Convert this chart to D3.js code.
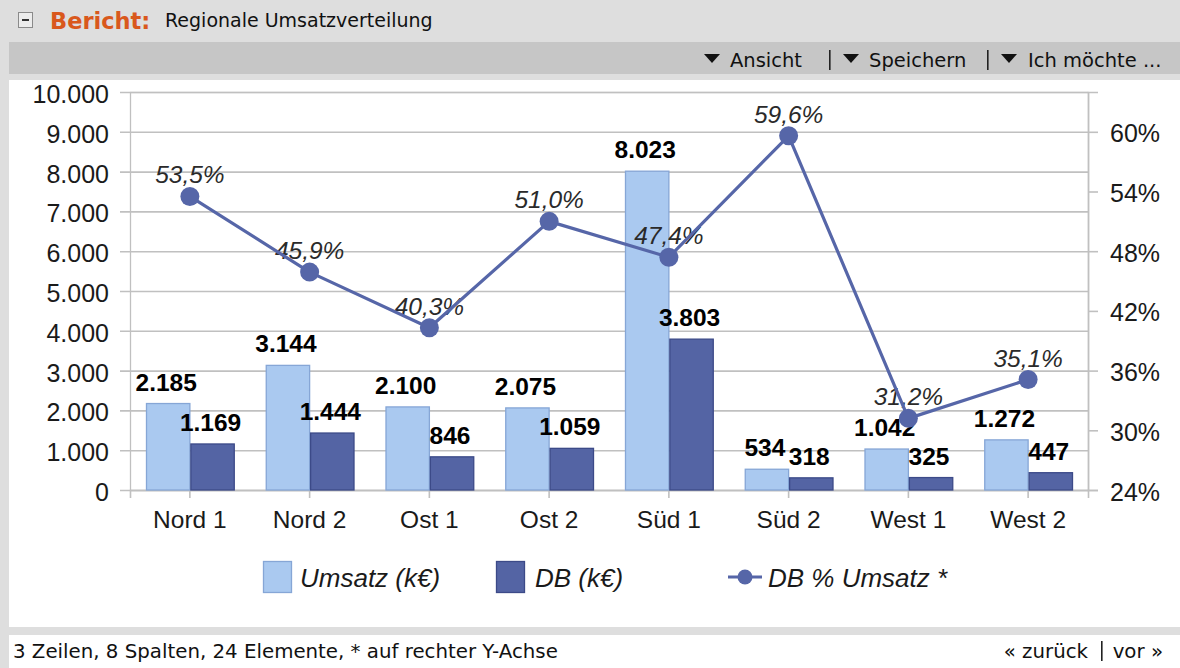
<!DOCTYPE html>
<html>
<head>
<meta charset="utf-8">
<script src="https://cdn.jsdelivr.net/npm/d3@7"></script>
<style>
  html, body { margin: 0; padding: 0; background: #dedede; }
  svg { display: block; }
  .ui { font-family: "DejaVu Sans", Verdana, sans-serif; }
  .ch { font-family: "Liberation Sans", Arial, sans-serif; }
</style>
</head>
<body>
<svg id="chart" width="1180" height="668"></svg>
<script>
// ---------- data ----------
const categories = ["Nord 1", "Nord 2", "Ost 1", "Ost 2", "Süd 1", "Süd 2", "West 1", "West 2"];
const umsatz = [2185, 3144, 2100, 2075, 8023, 534, 1042, 1272];
const db = [1169, 1444, 846, 1059, 3803, 318, 325, 447];
const dbPct = [53.5, 45.9, 40.3, 51.0, 47.4, 59.6, 31.2, 35.1];
const leftTicks = [0, 1000, 2000, 3000, 4000, 5000, 6000, 7000, 8000, 9000, 10000];
const rightTicks = [24, 30, 36, 42, 48, 54, 60];
const seriesNames = ["Umsatz (k€)", "DB (k€)", "DB % Umsatz *"];

const de = d3.formatLocale({ decimal: ",", thousands: ".", grouping: [3], currency: ["", " €"] });
const fmtNum = de.format(",d");
const fmtPct = de.format(".1f");

const svg = d3.select("#chart");

// ---------- page chrome ----------
svg.append("rect").attr("x", 0).attr("y", 0).attr("width", 1180).attr("height", 668).attr("fill", "#dedede");
// header
const hdr = svg.append("g").attr("class", "ui");
hdr.append("rect").attr("x", 18.5).attr("y", 12.5).attr("width", 14).attr("height", 15)
  .attr("fill", "#ececec").attr("stroke", "#8a8a8a");
hdr.append("line").attr("x1", 22).attr("x2", 29).attr("y1", 20).attr("y2", 20).attr("stroke", "#333").attr("stroke-width", 2);
hdr.append("text").attr("x", 50).attr("y", 28.5).attr("font-size", 22.5).attr("font-weight", "bold")
  .attr("fill", "#d9581c").text("Bericht:");
hdr.append("text").attr("x", 165).attr("y", 27).attr("font-size", 19).attr("fill", "#111")
  .text("Regionale Umsatzverteilung");
// toolbar
svg.append("rect").attr("x", 9).attr("y", 42).attr("width", 1171).attr("height", 32).attr("fill", "#c6c6c6");
const tb = svg.append("g").attr("class", "ui").attr("font-size", 19.5).attr("fill", "#111");
function tri(x) {
  tb.append("path").attr("d", `M${x},54 L${x + 16},54 L${x + 8},63 Z`).attr("fill", "#111");
}
tri(704); tb.append("text").attr("x", 730).attr("y", 67).text("Ansicht");
tb.append("rect").attr("x", 829).attr("y", 50).attr("width", 1.6).attr("height", 20).attr("fill", "#222");
tri(843); tb.append("text").attr("x", 869).attr("y", 67).text("Speichern");
tb.append("rect").attr("x", 987).attr("y", 50).attr("width", 1.6).attr("height", 20).attr("fill", "#222");
tri(1001); tb.append("text").attr("x", 1028).attr("y", 67).text("Ich möchte ...");

// main panel
svg.append("rect").attr("x", 9).attr("y", 80).attr("width", 1171).attr("height", 547).attr("fill", "#ffffff");
// footer
svg.append("rect").attr("x", 9).attr("y", 635).attr("width", 1171).attr("height", 33).attr("fill", "#ffffff");
const ft = svg.append("g").attr("class", "ui").attr("font-size", 19.8).attr("fill", "#111");
ft.append("text").attr("x", 13).attr("y", 658).text("3 Zeilen, 8 Spalten, 24 Elemente, * auf rechter Y-Achse");
ft.append("text").attr("x", 1163).attr("y", 658).attr("text-anchor", "end").text("vor »");
ft.append("rect").attr("x", 1101).attr("y", 641).attr("width", 1.6).attr("height", 20).attr("fill", "#222");
ft.append("text").attr("x", 1088).attr("y", 658).attr("text-anchor", "end").text("« zurück");

// ---------- chart ----------
const L = 130, R = 1088, T = 92, B = 490;
const x = d3.scaleBand().domain(categories).range([L, R]).paddingInner(0).paddingOuter(0);
const x1 = d3.scaleBand().domain([0, 1]).range([16, x.bandwidth() - 15]).padding(0);
const y = d3.scaleLinear().domain([0, 10000]).range([B, T]);
const y2 = d3.scaleLinear().domain([24, 64]).range([B, T]);

const g = svg.append("g").attr("class", "ch");
const gridColor = "#c0c0c0";

// plot frame
g.append("rect").attr("x", L + 0.5).attr("y", T + 0.5).attr("width", R - L).attr("height", B - T)
  .attr("fill", "none").attr("stroke", gridColor).attr("stroke-width", 1.3);

// left axis with gridlines
const yAxis = d3.axisLeft(y).tickValues(leftTicks).tickFormat(fmtNum).tickSize(-(R - L + 10)).tickPadding(0);
const ga = g.append("g").attr("transform", `translate(${L - 10},0)`).call(yAxis);
ga.select(".domain").remove();
ga.selectAll(".tick line").attr("x1", 0).attr("x2", R - L + 10).attr("stroke", gridColor).attr("stroke-width", 1.6);
ga.selectAll(".tick text").attr("x", -11).attr("dy", "0.42em").attr("font-size", 25)
  .attr("font-family", "Liberation Sans, Arial, sans-serif").attr("fill", "#1a1a1a");

// right axis
const y2Axis = d3.axisRight(y2).tickValues(rightTicks).tickFormat(d => d + "%").tickSize(10).tickPadding(0);
const gr = g.append("g").attr("transform", `translate(${R},0)`).call(y2Axis);
gr.select(".domain").attr("stroke", gridColor).attr("stroke-width", 1.6);
gr.selectAll(".tick line").attr("stroke", gridColor).attr("stroke-width", 1.6);
gr.selectAll(".tick text").attr("x", 22).attr("dy", "0.4em").attr("font-size", 25)
  .attr("font-family", "Liberation Sans, Arial, sans-serif").attr("fill", "#1a1a1a");

// x axis
const xAxis = d3.axisBottom(x).tickSize(8).tickPadding(0);
const gx = g.append("g").attr("transform", `translate(0,${B})`).call(xAxis);
gx.select(".domain").attr("stroke", gridColor).attr("stroke-width", 1.6);
gx.selectAll(".tick line").attr("stroke", gridColor).attr("stroke-width", 1.6);
gx.selectAll(".tick text").attr("y", 38).attr("dy", 0).attr("font-size", 24.5)
  .attr("font-family", "Liberation Sans, Arial, sans-serif").attr("fill", "#1a1a1a");

// bars
const barColors = [{ fill: "#aac9f0", stroke: "#86a6d6" }, { fill: "#5464a4", stroke: "#3c4a88" }];
const seriesVals = [umsatz, db];
seriesVals.forEach((vals, si) => {
  g.append("g").selectAll("rect").data(vals).join("rect")
    .attr("x", (d, i) => x(categories[i]) + x1(si) + 0.5)
    .attr("y", d => y(d) + 0.5)
    .attr("width", x1.bandwidth() - 1)
    .attr("height", d => B - y(d) - 0.5)
    .attr("fill", barColors[si].fill)
    .attr("stroke", barColors[si].stroke)
    .attr("stroke-width", 1.3);
});
// bar labels
seriesVals.forEach((vals, si) => {
  g.append("g").selectAll("text").data(vals).join("text")
    .attr("x", (d, i) => x(categories[i]) + x1(si) + x1.bandwidth() / 2 - 2)
    .attr("y", d => y(d) - 12.5)
    .attr("text-anchor", "middle")
    .attr("font-size", 24.5).attr("font-weight", "bold").attr("fill", "#000")
    .text(d => fmtNum(d));
});

// pct labels
g.append("g").selectAll("text").data(dbPct).join("text")
  .attr("x", (d, i) => x(categories[i]) + x.bandwidth() / 2)
  .attr("y", d => y2(d) - 13)
  .attr("text-anchor", "middle")
  .attr("font-size", 24.5).attr("font-style", "italic").attr("fill", "#2a2a2a")
  .text(d => fmtPct(d) + "%");

// line + markers
const lineColor = "#5666a8";
const line = d3.line().x((d, i) => x(categories[i]) + x.bandwidth() / 2).y(d => y2(d));
g.append("path").datum(dbPct).attr("d", line).attr("fill", "none")
  .attr("stroke", lineColor).attr("stroke-width", 3.2).attr("stroke-linejoin", "round");
g.append("g").selectAll("circle").data(dbPct).join("circle")
  .attr("cx", (d, i) => x(categories[i]) + x.bandwidth() / 2)
  .attr("cy", d => y2(d)).attr("r", 9.5).attr("fill", lineColor);

// legend
const lg = g.append("g").attr("font-size", 26).attr("font-style", "italic").attr("fill", "#1a1a1a");
lg.append("rect").attr("x", 263.5).attr("y", 561.5).attr("width", 28).attr("height", 31)
  .attr("fill", barColors[0].fill).attr("stroke", barColors[0].stroke).attr("stroke-width", 1.3);
lg.append("text").attr("x", 300).attr("y", 587).text(seriesNames[0]);
lg.append("rect").attr("x", 496.5).attr("y", 561.5).attr("width", 28).attr("height", 31)
  .attr("fill", barColors[1].fill).attr("stroke", barColors[1].stroke).attr("stroke-width", 1.3);
lg.append("text").attr("x", 535).attr("y", 587).text(seriesNames[1]);
lg.append("line").attr("x1", 728).attr("x2", 762).attr("y1", 577).attr("y2", 577)
  .attr("stroke", lineColor).attr("stroke-width", 3.2);
lg.append("circle").attr("cx", 745).attr("cy", 577).attr("r", 7.5).attr("fill", lineColor);
lg.append("text").attr("x", 768).attr("y", 587).text(seriesNames[2]);
</script>
</body>
</html>
